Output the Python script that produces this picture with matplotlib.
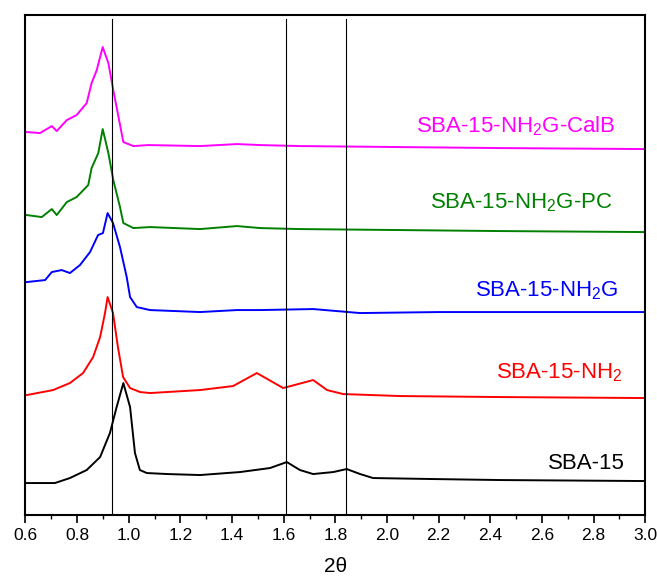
import matplotlib
matplotlib.use("Agg")
import matplotlib.pyplot as plt
from matplotlib.ticker import MultipleLocator

plt.rcParams['font.family'] = ['Liberation Sans', 'DejaVu Sans']
plt.rcParams['mathtext.fontset'] = 'custom'
plt.rcParams['mathtext.rm'] = 'Liberation Sans'

# 2theta / intensity (offset, arbitrary units)
sba15_x = [0.605, 0.714, 0.772, 0.837, 0.889, 0.927, 0.953, 0.979, 1.005, 1.024, 1.043, 1.070,
           1.15, 1.276, 1.431, 1.547, 1.612, 1.663, 1.714, 1.792, 1.844, 1.896, 1.946, 2.179,
           2.439, 3.0]
sba15_y = [32, 32, 37, 45, 58, 82, 108, 132, 108, 62, 45, 42,
           41, 40, 43, 47, 53, 45, 41, 43, 46, 41, 37, 36,
           35, 34]

nh2_x = [0.605, 0.707, 0.772, 0.823, 0.862, 0.889, 0.908, 0.918, 0.939, 0.958, 0.978, 1.005,
         1.044, 1.082, 1.276, 1.404, 1.496, 1.598, 1.714, 1.768, 1.830, 2.051, 2.439, 3.0]
nh2_y = [120, 125, 132, 142, 158, 178, 202, 218, 202, 168, 138, 127,
         123, 122, 125, 129, 142, 127, 135, 125, 121, 119, 118, 117]

nh2g_x = [0.605, 0.676, 0.702, 0.740, 0.772, 0.811, 0.850, 0.881, 0.900, 0.918, 0.939, 0.966,
          0.992, 1.005, 1.031, 1.082, 1.276, 1.419, 1.509, 1.714, 1.896, 2.2, 2.439, 3.0]
nh2g_y = [233, 235, 243, 245, 242, 250, 263, 280, 282, 302, 292, 268,
          238, 218, 208, 205, 203, 205, 205, 206, 202, 203, 203, 203]

pc_x = [0.605, 0.663, 0.702, 0.721, 0.760, 0.798, 0.843, 0.856, 0.882, 0.899, 0.921, 0.940,
        0.966, 0.979, 1.018, 1.082, 1.276, 1.419, 1.509, 1.663, 2.051, 2.439, 3.0]
pc_y = [300, 298, 306, 300, 313, 318, 330, 347, 362, 386, 362, 335,
        308, 292, 287, 288, 286, 289, 287, 286, 285, 284, 283]

calb_x = [0.605, 0.656, 0.702, 0.721, 0.760, 0.798, 0.837, 0.856, 0.876, 0.899, 0.921, 0.940,
          0.979, 1.018, 1.076, 1.276, 1.419, 1.509, 1.663, 2.051, 2.439, 3.0]
calb_y = [383, 382, 389, 384, 395, 400, 412, 432, 445, 468, 452, 425,
          373, 369, 370, 369, 371, 370, 369, 368, 367, 366]

ref_lines = [0.935, 1.61, 1.84]
xticks = [0.6, 0.8, 1.0, 1.2, 1.4, 1.6, 1.8, 2.0, 2.2, 2.4, 2.6, 2.8, 3.0]

fig = plt.figure(figsize=(6.57, 5.80), dpi=100)
ax = fig.add_axes([0.0388, 0.112, 0.9432, 0.862])

ax.plot(sba15_x, sba15_y, color='black', lw=1.4)
ax.plot(nh2_x, nh2_y, color='#ff0000', lw=1.4)
ax.plot(nh2g_x, nh2g_y, color='#0000ff', lw=1.4)
ax.plot(pc_x, pc_y, color='#008000', lw=1.4)
ax.plot(calb_x, calb_y, color='#ff00ff', lw=1.4)

for xv in ref_lines:
    ax.axvline(xv, ymax=0.992, color='black', lw=0.8)

fs = 16
ax.text(2.884, 383, 'SBA-15-NH$_2$G-CalB', color='#ff00ff', ha='right', va='baseline', fontsize=fs)
ax.text(2.872, 307, 'SBA-15-NH$_2$G-PC', color='#008000', ha='right', va='baseline', fontsize=fs)
ax.text(2.896, 219, 'SBA-15-NH$_2$G', color='#0000ff', ha='right', va='baseline', fontsize=fs)
ax.text(2.911, 137, 'SBA-15-NH$_2$', color='#ff0000', ha='right', va='baseline', fontsize=fs)
ax.text(2.923, 46, 'SBA-15', color='black', ha='right', va='baseline', fontsize=fs)

ax.set_xlim(0.6, 3.0)
ax.set_ylim(0, 500)
ax.set_xticks(xticks)
ax.set_xticklabels([f"{t:.1f}" for t in xticks])
ax.xaxis.set_minor_locator(MultipleLocator(0.1))
ax.tick_params(axis='x', which='major', direction='out', length=6, width=1.2, labelsize=12.5)
ax.tick_params(axis='x', which='minor', direction='out', length=3, width=1.0)
ax.set_yticks([])
for sp in ax.spines.values():
    sp.set_linewidth(1.5)
ax.set_xlabel('2θ', fontsize=15, labelpad=10)

fig.savefig('out.png', dpi=100)
